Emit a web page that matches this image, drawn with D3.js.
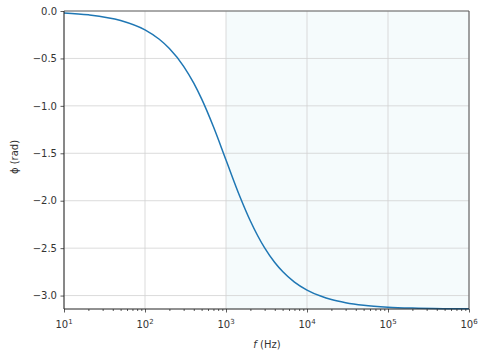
<!DOCTYPE html>
<html>
<head>
<meta charset="utf-8">
<script src="https://cdn.jsdelivr.net/npm/d3@7"></script>
<style>
  body { margin: 0; background: #fff; }
  svg { display: block; font-family: "DejaVu Sans", sans-serif; }
</style>
</head>
<body>
<div class="graph"></div>
<script>
"use strict";

// frequency (Hz) and phase (rad)
var freqs = [10, 20, 50, 100, 150, 200, 300, 400, 500, 700, 1000, 1500, 2000, 3000, 4000,
             5000, 7000, 10000, 15000, 20000, 30000, 50000, 100000, 200000, 500000, 1000000];
var phase = [-0.020, -0.040, -0.100, -0.199, -0.298, -0.395, -0.583, -0.761, -0.927, -1.221,
             -1.571, -1.966, -2.214, -2.498, -2.652, -2.747, -2.858, -2.942, -3.008, -3.042,
             -3.075, -3.102, -3.122, -3.132, -3.138, -3.140];

var xTicks = [10, 100, 1000, 10000, 100000, 1000000];
var yTicks = [0, -0.5, -1.0, -1.5, -2.0, -2.5, -3.0];
var shadeFrom = 1000;

var width = 497,
    height = 359,
    plotLeft = 64,
    plotRight = 469,
    plotTop = 11,
    plotBottom = 309;

var x = d3.scaleLog()
    .domain([10, 1000000])
    .range([plotLeft, plotRight])

var y = d3.scaleLinear()
    .domain([-Math.PI, 0])
    .range([plotBottom, plotTop])

var svg = d3.select('.graph').append('svg')
    .attr('width', width)
    .attr('height', height)

// shaded band
svg.append('rect')
    .attr('x', x(shadeFrom))
    .attr('y', plotTop)
    .attr('width', plotRight - x(shadeFrom))
    .attr('height', plotBottom - plotTop)
    .attr('fill', '#f5fbfc')

// grid
var grid = svg.append('g')
grid.selectAll('.gx').data(xTicks).enter().append('line')
    .attr('x1', function(d) { return x(d) })
    .attr('x2', function(d) { return x(d) })
    .attr('y1', plotTop)
    .attr('y2', plotBottom)
    .attr('stroke', '#d2d2d2')
    .attr('stroke-width', 0.8)
grid.selectAll('.gy').data(yTicks).enter().append('line')
    .attr('x1', plotLeft)
    .attr('x2', plotRight)
    .attr('y1', function(d) { return y(d) })
    .attr('y2', function(d) { return y(d) })
    .attr('stroke', '#d2d2d2')
    .attr('stroke-width', 0.8)

// curve
var line = d3.line()
    .curve(d3.curveMonotoneX)
    .x(function(d, i) { return x(freqs[i]) })
    .y(function(d) { return y(d) })

svg.append('path')
    .datum(phase)
    .attr('d', line)
    .attr('fill', 'none')
    .attr('stroke', '#1f77b4')
    .attr('stroke-width', 1.5)

// axes
var minor = [];
for (var p = 1; p < 6; p++) {
    for (var k = 2; k < 10; k++) minor.push(k * Math.pow(10, p));
}

var xAxis = d3.axisBottom(x)
    .tickValues(xTicks)
    .tickSize(3.5)
    .tickPadding(4)
    .tickFormat(function() { return '' })

var axisX = svg.append('g')
    .attr('transform', 'translate(0,' + plotBottom + ')')
    .call(xAxis)

axisX.append('g').call(d3.axisBottom(x).tickValues(minor).tickSize(2).tickFormat(function() { return '' }))
axisX.selectAll('.domain').remove()
axisX.selectAll('line').attr('stroke', '#333').attr('stroke-width', 0.8)

var xLabels = svg.append('g')
xTicks.forEach(function(t) {
    var txt = xLabels.append('text')
        .attr('x', x(t))
        .attr('y', 328)
        .attr('text-anchor', 'middle')
        .attr('font-size', '10px')
        .attr('fill', '#333')
    txt.append('tspan').text('10')
    txt.append('tspan')
        .attr('font-size', '7px')
        .attr('dy', '-4')
        .text(String(Math.round(Math.log10(t))))
})

var yAxis = d3.axisLeft(y)
    .tickValues(yTicks)
    .tickSize(3.5)
    .tickPadding(3.5)
    .tickFormat(function(d) { return d3.format('.1f')(d).replace('-', '\u2212') })

var axisY = svg.append('g')
    .attr('transform', 'translate(' + plotLeft + ',0)')
    .call(yAxis)
axisY.selectAll('.domain').remove()
axisY.selectAll('line').attr('stroke', '#333').attr('stroke-width', 0.8)
axisY.selectAll('text')
    .attr('font-size', '10px')
    .attr('font-family', '"DejaVu Sans", sans-serif')
    .attr('fill', '#333')

// spines
svg.append('line').attr('x1', plotLeft).attr('x2', plotRight).attr('y1', plotTop).attr('y2', plotTop)
    .attr('stroke', '#666').attr('stroke-width', 1)
svg.append('line').attr('x1', plotRight).attr('x2', plotRight).attr('y1', plotTop).attr('y2', plotBottom)
    .attr('stroke', '#555').attr('stroke-width', 1)
svg.append('line').attr('x1', plotLeft).attr('x2', plotLeft).attr('y1', plotTop).attr('y2', plotBottom)
    .attr('stroke', '#222').attr('stroke-width', 1)
svg.append('line').attr('x1', plotLeft).attr('x2', plotRight).attr('y1', plotBottom).attr('y2', plotBottom)
    .attr('stroke', '#222').attr('stroke-width', 1)

// axis titles
var xt = svg.append('text')
    .attr('x', 267)
    .attr('y', 348)
    .attr('text-anchor', 'middle')
    .attr('font-size', '10px')
    .attr('fill', '#333')
xt.append('tspan').attr('font-style', 'italic').text('f')
xt.append('tspan').text(' (Hz)')

svg.append('text')
    .attr('transform', 'translate(18,157) rotate(-90)')
    .attr('text-anchor', 'middle')
    .attr('font-size', '10px')
    .attr('fill', '#333')
    .text('\u03d5 (rad)')
</script>
</body>
</html>
